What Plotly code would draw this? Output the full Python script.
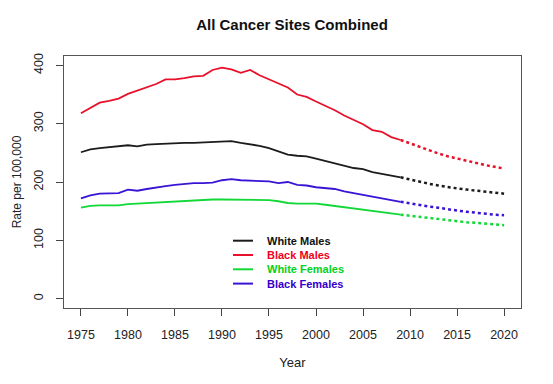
import plotly.graph_objects as go

years_obs = list(range(1975, 2010))
years_proj = list(range(2009, 2021))

white_males = [251, 256, 258, 260, 262, 263, 261, 264, 265, 266, 266, 267, 267, 268, 269, 270, 270, 267, 265, 262,
               258, 253, 247, 245, 244, 240, 236, 233, 228, 224, 222, 217, 214, 211, 208]
black_males = [318, 327, 336, 339, 343, 351, 357, 363, 368, 376, 376, 378, 381, 382, 392, 396, 393, 387, 392, 383,
               376, 370, 362, 350, 346, 338, 331, 323, 314, 306, 299, 289, 286, 277, 272]
white_females = [156, 159, 160, 160, 160, 162, 163, 164, 165, 166, 167, 167, 168, 169, 170, 170, 170, 170, 170, 170,
                 169, 167, 164, 163, 163, 163, 161, 159, 156, 154, 152, 150, 148, 146, 144]
black_females = [172, 177, 180, 180, 181, 187, 185, 188, 191, 193, 195, 197, 198, 198, 199, 203, 205, 203, 202, 201,
                 201, 198, 200, 195, 194, 191, 190, 188, 184, 181, 178, 175, 172, 169, 166]

white_males_proj = [208, 204, 200, 197, 194, 191, 189, 187, 185, 183, 181, 180]
black_males_proj = [272, 266, 260, 254, 249, 244, 240, 236, 232, 229, 226, 223]
white_females_proj = [144, 142, 140, 138, 136, 134, 133, 131, 130, 129, 127, 126]
black_females_proj = [166, 163, 160, 158, 156, 153, 151, 149, 147, 146, 144, 143]

x_ticks = list(range(1975, 2021, 5))
y_ticks = [0, 100, 200, 300, 400]

series_names = ["White Males", "Black Males", "White Females", "Black Females"]
series_obs = [white_males, black_males, white_females, black_females]
series_proj = [white_males_proj, black_males_proj, white_females_proj, black_females_proj]
line_colors = ["#1c1c1c", "#e8102a", "#12d838", "#3a14d4"]
text_colors = ["#111111", "#f0001c", "#00d21e", "#3300cc"]

W, H = 553, 384
L, R, T, B = 64, 32, 56, 76
pw, ph = W - L - R, H - T - B

fig = go.Figure()
for name, obs, color in zip(series_names, series_obs, line_colors):
    fig.add_trace(go.Scatter(x=years_obs, y=obs, mode="lines", name=name,
                             line=dict(color=color, width=1.8), showlegend=False))
for name, proj, color in zip(series_names, series_proj, line_colors):
    fig.add_trace(go.Scatter(x=years_proj, y=proj, mode="lines", name=name + " (projected)",
                             line=dict(color=color, width=2.5, dash="dot"), showlegend=False))

# manual legend (compact R-style)
leg_x0, leg_x1, leg_tx = 233, 253, 265
leg_y0, leg_dy = 240.7, 14.3
for i, (name, lc, tc) in enumerate(zip(series_names, line_colors, text_colors)):
    yp = (H - B - (leg_y0 + i * leg_dy)) / ph
    fig.add_shape(type="line", xref="paper", yref="paper",
                  x0=(leg_x0 - L) / pw, x1=(leg_x1 - L) / pw, y0=yp, y1=yp,
                  line=dict(color=lc, width=2))
    fig.add_annotation(xref="paper", yref="paper", x=(leg_tx - L) / pw, y=yp,
                       xanchor="left", yanchor="middle", showarrow=False,
                       text=f"<b>{name}</b>", font=dict(size=11, color=tc))

fig.update_layout(
    width=W, height=H,
    margin=dict(l=L, r=R, t=T, b=B),
    paper_bgcolor="white", plot_bgcolor="white",
    font=dict(family="Liberation Sans, Arial, sans-serif", size=12, color="#222"),
    title=dict(text="<b>All Cancer Sites Combined</b>", x=292 / W, xanchor="center", xref="container",
               y=1 - 25 / H, yanchor="middle", font=dict(size=15, color="#111")),
    showlegend=False,
)
fig.update_xaxes(range=[1973.2, 2021.8], tickvals=x_ticks, ticks="outside", ticklen=7,
                 showline=True, linecolor="#555", linewidth=1, mirror=True, showgrid=False,
                 zeroline=False, automargin=False, ticklabelstandoff=8,
                 title=dict(text="Year", standoff=16, font=dict(size=13)),
                 tickfont=dict(size=12.5))
fig.update_yaxes(range=[-16, 416], tickvals=y_ticks, ticks="outside", ticklen=7,
                 showline=True, linecolor="#555", linewidth=1, mirror=True, showgrid=False,
                 zeroline=False, tickangle=-90, automargin=False, ticklabelstandoff=8,
                 title=dict(text="Rate per 100,000", standoff=7, font=dict(size=12)),
                 tickfont=dict(size=12.5))

fig.write_html("out.html", config={"displayModeBar": False},
               post_script="document.body.style.margin='0px';document.body.style.padding='0px';")
